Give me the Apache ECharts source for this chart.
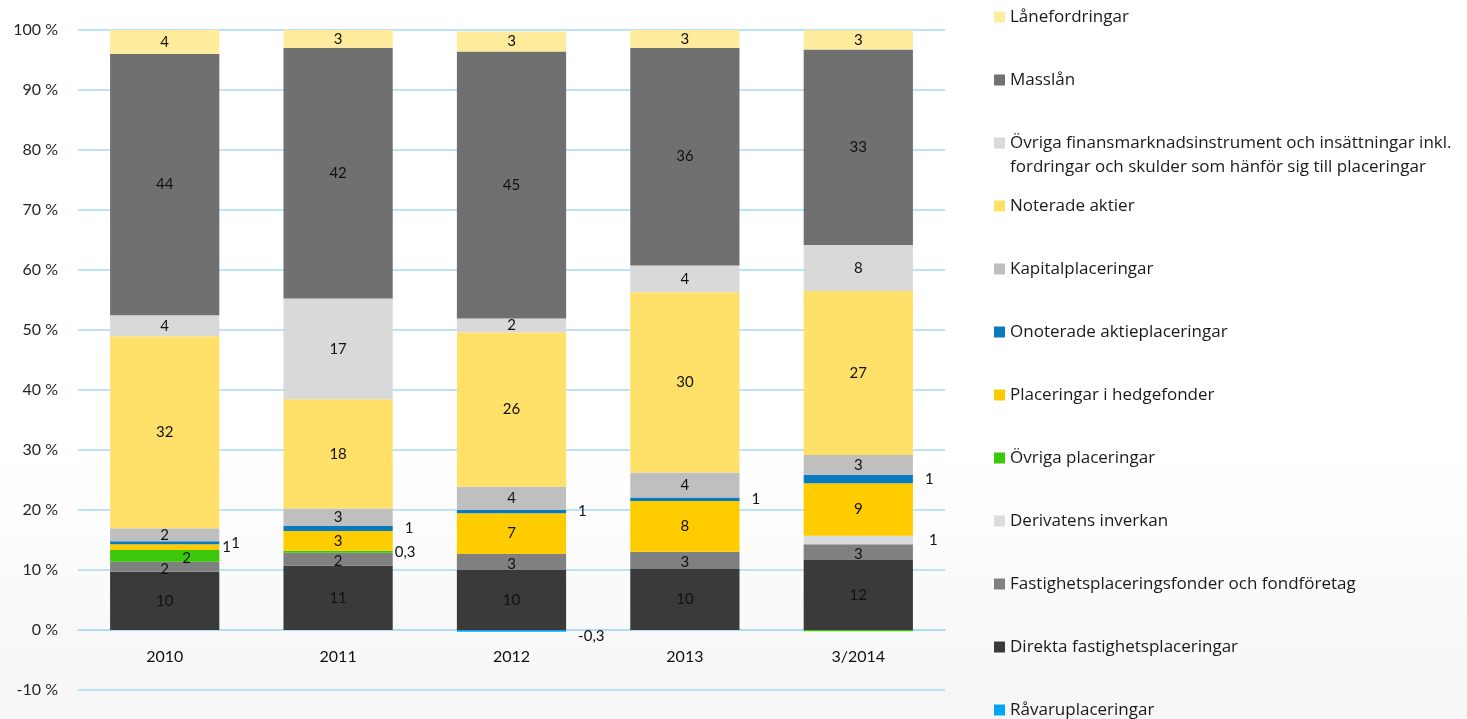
<!DOCTYPE html>
<html>
<head>
<meta charset="utf-8">
<script src="https://cdn.jsdelivr.net/npm/echarts@6/dist/echarts.min.js"></script>
<style>
	html, body { margin: 0; padding: 0; }
	body { background: linear-gradient(to bottom, #ffffff 0%, #ffffff 62%, #f6f6f6 100%); }
	#chart { width: 1467px; height: 719px; }
</style>
</head>
<body>
<div id="chart"></div>
<script>
// kategorier
var years = ["2010", "2011", "2012", "2013", "3/2014"];

// andel av placeringar, %, nerifrån och upp
var ravaru = [null, null, -0.3, null, null];
var direkta = [9.72, 10.72, 10, 10.17, 11.67];
var fastFonder = [1.67, 2.17, 2.67, 2.88, 2.62];
var derivat = [null, null, null, null, 1.43];
var ovrigaPl = [1.95, 0.3, null, null, -0.2];
var hedge = [0.95, 3.3, 6.78, 8.45, 8.73];
var onoterade = [0.5, 0.83, 0.55, 0.6, 1.38];
var kapital = [2.17, 2.95, 3.88, 4.17, 3.33];
var noterade = [32, 18.2, 25.7, 30.03, 27.33];
var ovrigaFin = [3.5, 16.8, 2.33, 4.45, 7.67];
var masslan = [43.54, 41.77, 44.5, 36.3, 32.6];
var lanefordr = [4.0, 2.95, 3.33, 2.95, 3.2];

var longName = "Övriga finansmarknadsinstrument och insättningar inkl.\nfordringar och skulder som hänför sig till placeringar";

// namn, data, färg, avstånd för etikett utanför stapeln, förskjutning inuti
var seriesDefs = [
	["Råvaruplaceringar", ravaru, "#00a6f5", 12, [0, 0]],
	["Direkta fastighetsplaceringar", direkta, "#3a3a3a", 5, [0, 0]],
	["Fastighetsplaceringsfonder och fondföretag", fastFonder, "#808080", 5, [0, 2]],
	["Derivatens inverkan", derivat, "#dcdcdc", 16, [0, 0]],
	["Övriga placeringar", ovrigaPl, "#3cc80a", 2, [22, 2]],
	["Placeringar i hedgefonder", hedge, "#ffcc00", 3, [0, 0]],
	["Onoterade aktieplaceringar", onoterade, "#0a7ac0", 12, [0, 0]],
	["Kapitalplaceringar", kapital, "#bfbfbf", 5, [0, 0]],
	["Noterade aktier", noterade, "#ffe169", 5, [0, 0]],
	[longName, ovrigaFin, "#d9d9d9", 5, [0, 0]],
	["Masslån", masslan, "#707070", 5, [0, 0]],
	["Lånefordringar", lanefordr, "#ffeb9c", 5, [0, 0]]
];

var FONT = "Lato";
var LEGEND_FONT = "Open Sans";
var GRID_COLOR = "#a6daf6";

function labelText(v) {
	if (v == null || Math.abs(v) < 0.25) return "";
	if (Math.abs(v) < 0.5) return v.toFixed(1).replace(".", ",");
	return String(Math.round(v));
}

function Stack(dom) {
	var myChart = echarts.init(dom, null, {
		renderer: "canvas",
		useDirtyRect: false
	});

	var series = seriesDefs.map(function (d) {
		return {
			name: d[0],
			type: "bar",
			stack: "total",
			barWidth: "63%",
			itemStyle: { color: d[2] },
			data: d[1].map(function (v) {
				var small = v != null && Math.abs(v) < 1.5;
				var off = small ? (d[1] === ravaru ? [0, 5] : [0, 0]) : d[4];
				return {
					value: v,
					label: {
						show: true,
						position: small ? "right" : "inside",
						distance: small ? d[3] : 5,
						offset: off,
						formatter: function () { return labelText(v); },
						color: "#111",
						fontFamily: FONT,
						fontSize: 15
					}
				};
			})
		};
	});

	var legendNames = seriesDefs.map(function (d) { return d[0]; }).reverse();

	var option = {
		animation: false,
		grid: {
			left: 78,
			right: 522,
			top: 30,
			bottom: 29,
			outerBoundsMode: "none"
		},
		legend: {
			orient: "vertical",
			left: 994,
			top: 7,
			height: 730,
			padding: 0,
			itemWidth: 11,
			itemHeight: 11,
			itemGap: 43,
			icon: "rect",
			selectedMode: false,
			data: legendNames,
			formatter: function (name) {
				return name.split("\n")[0];
			},
			textStyle: {
				fontFamily: LEGEND_FONT,
				fontSize: 17,
				color: "#1a1a1a",
				lineHeight: 20
			}
		},
		// andra raden av den långa förklaringen
		graphic: [
			{
				type: "text",
				x: 1010,
				y: 167,
				style: {
					text: longName.split("\n")[1],
					font: "17px '" + LEGEND_FONT + "'",
					fill: "#1a1a1a",
					verticalAlign: "middle"
				}
			}
		],
		xAxis: {
			type: "category",
			data: years,
			// kategorierna sitter vid 0-linjen
			offset: -60,
			axisLine: { show: true, onZero: false, lineStyle: { color: GRID_COLOR, width: 1.5 } },
			axisTick: { show: false },
			axisLabel: {
				margin: 19,
				fontFamily: FONT,
				fontSize: 16,
				color: "#111"
			}
		},
		yAxis: {
			type: "value",
			min: -10,
			max: 100,
			interval: 10,
			axisLabel: {
				formatter: "{value} %",
				margin: 20,
				fontFamily: FONT,
				fontSize: 16,
				color: "#262626"
			},
			splitLine: {
				lineStyle: { color: GRID_COLOR, width: 1.5 }
			}
		},
		series: series
	};
	myChart.setOption(option);
	window.addEventListener("resize", myChart.resize);
}

Stack(document.getElementById("chart"));
</script>
</body>
</html>
